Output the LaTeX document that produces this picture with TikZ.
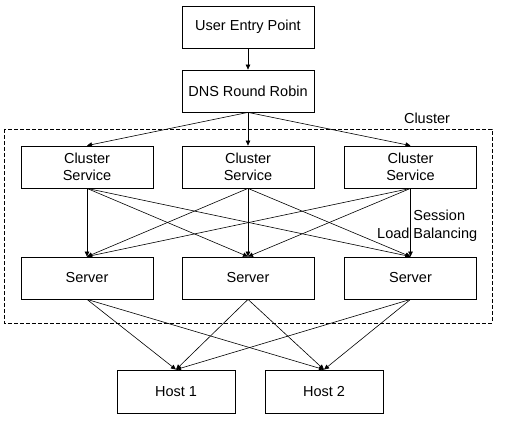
\documentclass[tikz,border=0pt]{standalone}
\usepackage{fontspec}
\setmainfont{Liberation Sans}
\usetikzlibrary{arrows.meta}
\begin{document}
\begin{tikzpicture}[x=1pt,y=-1pt,
  every node/.style={font=\fontsize{14.5}{17.5}\selectfont},
  box/.style={draw, line width=0.8pt, minimum width=132pt, minimum height=42pt, inner sep=0pt, align=center},
  hostbox/.style={box, minimum width=118pt, minimum height=43pt},
  arr/.style={line width=0.6pt, -{Triangle[length=5pt,width=4.5pt]}}]
\useasboundingbox (0,0) rectangle (507,422);
\node[box] (user) at (248,27) {User Entry Point};
\node[box] (dns) at (248,91) {DNS Round Robin};
\draw[line width=0.8pt, dash pattern=on 4pt off 2pt] (4,129) rectangle (492,323);
\node (clab) at (427,118) {Cluster};
\node[box] (cs1) at (87,167) {Cluster\\Service};
\node[box] (cs2) at (248,167) {Cluster\\Service};
\node[box] (cs3) at (410.5,167) {Cluster\\Service};
\node[box] (sv1) at (87,278) {Server};
\node[box] (sv2) at (248,278) {Server};
\node[box] (sv3) at (410.5,278) {Server};
\node[hostbox] (h1) at (176,391.5) {Host 1};
\node[hostbox] (h2) at (324,391.5) {Host 2};
\node[align=left, anchor=west, inner sep=0pt] (slb) at (377,226) {\phantom{Load }Session\\Load Balancing};
\draw[arr] (user) -- (dns);
\foreach \c in {cs1,cs2,cs3} \draw[arr] (dns.south) -- (\c.north);
\foreach \c in {cs1,cs2,cs3} \foreach \s in {sv1,sv2,sv3} \draw[arr] (\c.south) -- (\s.north);
\foreach \s in {sv1,sv2,sv3} \foreach \h in {h1,h2} \draw[arr] (\s.south) -- (\h.north);
\end{tikzpicture}
\end{document}
